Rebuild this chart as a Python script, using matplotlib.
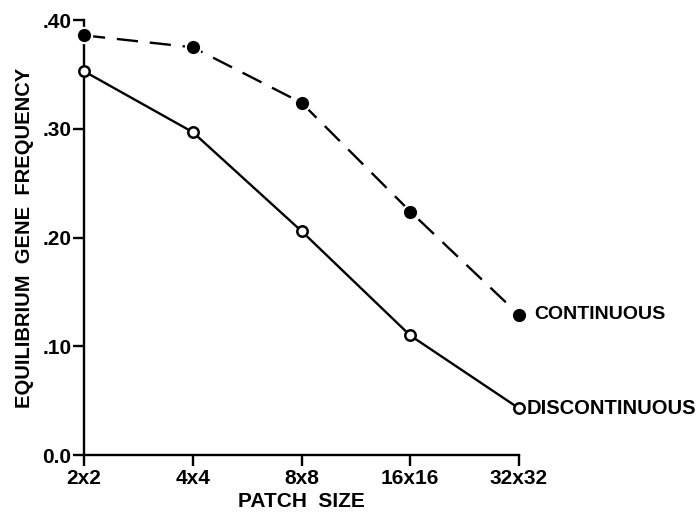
import matplotlib
matplotlib.use("Agg")
import matplotlib.pyplot as plt

patch_sizes = ["2x2", "4x4", "8x8", "16x16", "32x32"]
continuous = [0.386, 0.375, 0.324, 0.224, 0.129]
discontinuous = [0.353, 0.297, 0.206, 0.110, 0.043]
y_ticks = [0.0, 0.10, 0.20, 0.30, 0.40]
y_tick_labels = ["0.0", ".10", ".20", ".30", ".40"]

plt.rcParams["font.family"] = ["Liberation Sans", "DejaVu Sans"]
plt.rcParams["font.weight"] = "bold"

fig = plt.figure(figsize=(6.96, 5.16), dpi=100)
ax = fig.add_axes([0.1207, 0.118, 0.625, 0.843])

x = list(range(len(patch_sizes)))

ax.plot(x, continuous, color="black", lw=1.7, dashes=(9, 5),
        marker="o", markersize=11, markerfacecolor="black", markeredgecolor="white",
        markeredgewidth=1.5, clip_on=False, zorder=3)
ax.plot(x, discontinuous, color="black", lw=1.7,
        marker="o", markersize=7.5, markerfacecolor="white", markeredgecolor="black",
        markeredgewidth=1.8, clip_on=False, zorder=3)

ax.text(x[-1] + 0.14, continuous[-1], "CONTINUOUS", fontsize=14, fontweight="bold",
        va="center", ha="left")
ax.text(x[-1] + 0.07, discontinuous[-1], "DISCONTINUOUS", fontsize=14.5, fontweight="bold",
        va="center", ha="left")

ax.set_xlim(0, len(patch_sizes) - 1)
ax.set_ylim(0, 0.40)
ax.set_xticks(x)
ax.set_xticklabels(patch_sizes)
ax.set_yticks(y_ticks)
ax.set_yticklabels(y_tick_labels)

for s in ["top", "right"]:
    ax.spines[s].set_visible(False)
for s in ["left", "bottom"]:
    ax.spines[s].set_linewidth(1.7)

ax.tick_params(axis="both", labelsize=15, width=1.7, length=8)
ax.tick_params(axis="x", pad=2)
ax.tick_params(axis="y", pad=1)

ax.set_xlabel("PATCH  SIZE", fontsize=15, fontweight="bold", labelpad=3)
ax.set_ylabel("EQUILIBRIUM  GENE  FREQUENCY", fontsize=14.5, fontweight="bold", labelpad=6)

fig.savefig("out.png", dpi=100)
